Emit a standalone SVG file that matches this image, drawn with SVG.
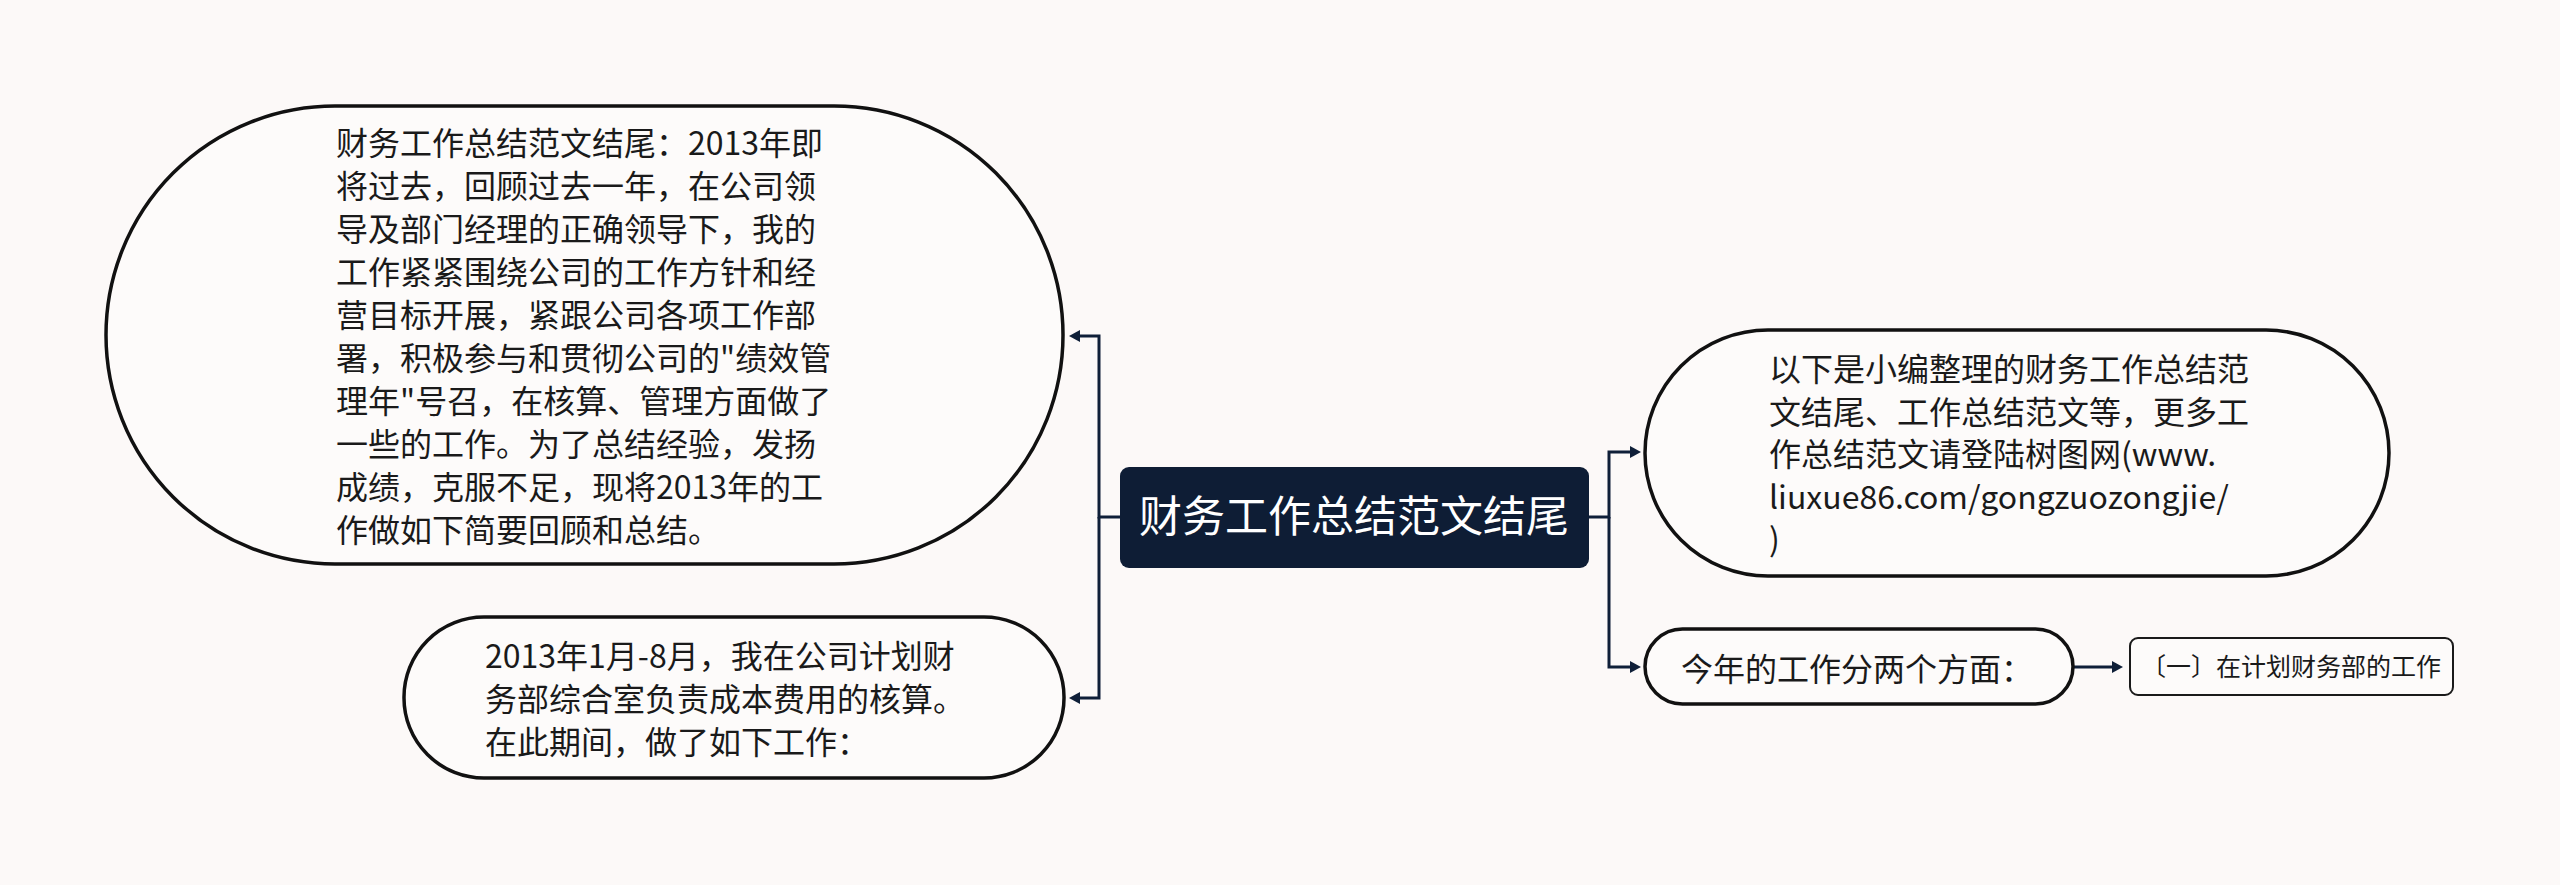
<svg xmlns="http://www.w3.org/2000/svg" width="2560" height="885" viewBox="0 0 2560 885">
<defs>
<style>
.t{font-family:"Noto Sans CJK SC","Noto Sans",sans-serif;fill:#1a1a1a;font-size:32px}
.n{fill:#fdfbfa;stroke:#111;stroke-width:3.5}
.c{fill:none;stroke:#0f1f38;stroke-width:3}
</style>
<marker id="a" viewBox="0 0 11 12" refX="0" refY="6" markerWidth="11" markerHeight="12" markerUnits="userSpaceOnUse" orient="auto">
<path d="M0,0 L11,6 L0,12 z" fill="#0f1f38"/>
</marker>
</defs>
<rect width="2560" height="885" fill="#fcf9f8"/>
<g id="connectors">
<path class="c" d="M1120,517 H1099 V336 H1080" marker-end="url(#a)"/>
<path class="c" d="M1099,517 V698 H1080" marker-end="url(#a)"/>
<path class="c" d="M1589,517 H1609 V452 H1630" marker-end="url(#a)"/>
<path class="c" d="M1609,517 V667 H1630" marker-end="url(#a)"/>
<path class="c" d="M2073,667 H2112" marker-end="url(#a)"/>
</g>
<g id="root">
<rect x="1120" y="467" width="469" height="101" rx="9" fill="#0e1d35"/>
<text x="1354" y="532" text-anchor="middle" style="font-family:'Noto Sans CJK SC','Noto Sans',sans-serif;font-size:43px;fill:#ffffff">财务工作总结范文结尾</text>
</g>
<g id="node-summary">
<rect class="n" x="106" y="106" width="957" height="458" rx="229"/>
<text class="t">
<tspan x="336" y="155">财务工作总结范文结尾：2013年即</tspan>
<tspan x="336" y="198">将过去，回顾过去一年，在公司领</tspan>
<tspan x="336" y="241">导及部门经理的正确领导下，我的</tspan>
<tspan x="336" y="284">工作紧紧围绕公司的工作方针和经</tspan>
<tspan x="336" y="327">营目标开展，紧跟公司各项工作部</tspan>
<tspan x="336" y="370">署，积极参与和贯彻公司的"绩效管</tspan>
<tspan x="336" y="413">理年"号召，在核算、管理方面做了</tspan>
<tspan x="336" y="456">一些的工作。为了总结经验，发扬</tspan>
<tspan x="336" y="499">成绩，克服不足，现将2013年的工</tspan>
<tspan x="336" y="542">作做如下简要回顾和总结。</tspan>
</text>
</g>
<g id="node-period">
<rect class="n" x="404" y="617" width="660" height="161" rx="80"/>
<text class="t">
<tspan x="485" y="668">2013年1月-8月，我在公司计划财</tspan>
<tspan x="485" y="711">务部综合室负责成本费用的核算。</tspan>
<tspan x="485" y="754">在此期间，做了如下工作：</tspan>
</text>
</g>
<g id="node-intro">
<rect class="n" x="1645" y="330" width="744" height="246" rx="123"/>
<text class="t">
<tspan x="1769" y="381">以下是小编整理的财务工作总结范</tspan>
<tspan x="1769" y="423.5">文结尾、工作总结范文等，更多工</tspan>
<tspan x="1769" y="466">作总结范文请登陆树图网(www.</tspan>
<tspan x="1769" y="508.5">liuxue86.com/gongzuozongjie/</tspan>
<tspan x="1769" y="551">)</tspan>
</text>
</g>
<g id="node-aspects">
<rect class="n" x="1645" y="629" width="428" height="75" rx="37.5"/>
<text class="t" x="1681" y="681">今年的工作分两个方面：</text>
</g>
<g id="node-first">
<rect x="2130" y="638" width="323" height="57" rx="8" fill="#fdfbfa" stroke="#1a1a1a" stroke-width="2"/>
<text class="t" x="2291" y="676" text-anchor="middle" style="font-size:25px">〔一〕在计划财务部的工作</text>
</g>
</svg>
